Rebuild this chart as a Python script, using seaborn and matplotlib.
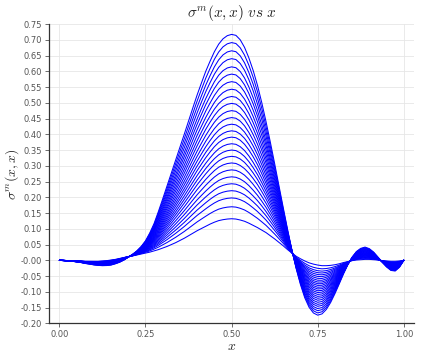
import numpy as np
import pandas as pd
import matplotlib
matplotlib.use("Agg")
import matplotlib.pyplot as plt
import seaborn as sns

# x positions where the curves were read (steps of 0.0125)
x_pts = np.linspace(0.0, 1.0, 81)

# highest curve (largest peak)
top_curve = [0.000, -0.001, -0.002, -0.003, -0.005, -0.007, -0.010, -0.012, -0.0145, -0.016,
             -0.017, -0.0165, -0.015, -0.011, -0.006, 0.001, 0.010, 0.019, 0.030, 0.044,
             0.062, 0.087, 0.117, 0.155, 0.195, 0.236, 0.277, 0.318, 0.359, 0.400,
             0.442, 0.484, 0.525, 0.563, 0.600, 0.632, 0.662, 0.686, 0.703, 0.713,
             0.717, 0.714, 0.700, 0.676, 0.643, 0.603, 0.556, 0.501, 0.440, 0.375,
             0.307, 0.237, 0.167, 0.098, 0.033, -0.026, -0.077, -0.119, -0.149, -0.167,
             -0.174, -0.170, -0.156, -0.134, -0.106, -0.075, -0.043, -0.014, 0.010, 0.028,
             0.038, 0.042, 0.037, 0.026, 0.010, -0.006, -0.021, -0.032, -0.034, -0.022,
             0.000]

# lowest curve (smallest peak)
low_curve = [0.000, 0.000, -0.001, -0.001, -0.002, -0.002, -0.003, -0.003, -0.003, -0.003,
             -0.002, -0.001, 0.001, 0.003, 0.006, 0.009, 0.012, 0.014, 0.017, 0.020,
             0.023, 0.026, 0.030, 0.034, 0.039, 0.044, 0.050, 0.056, 0.063, 0.070,
             0.078, 0.086, 0.094, 0.101, 0.108, 0.115, 0.121, 0.126, 0.129, 0.131,
             0.132, 0.131, 0.128, 0.124, 0.118, 0.111, 0.104, 0.096, 0.088, 0.078,
             0.068, 0.057, 0.046, 0.034, 0.023, 0.013, 0.005, -0.002, -0.008, -0.012,
             -0.015, -0.017, -0.017, -0.016, -0.014, -0.011, -0.007, -0.004, -0.001, 0.001,
             0.002, 0.003, 0.003, 0.002, 0.001, -0.001, -0.002, -0.003, -0.003, -0.002,
             0.000]

# peak value at x = 0.5 of each curve
peaks = [0.132, 0.170, 0.198, 0.221, 0.243, 0.265, 0.287, 0.309, 0.330, 0.350,
         0.370, 0.391, 0.411, 0.432, 0.453, 0.475, 0.498, 0.520, 0.543, 0.567,
         0.591, 0.614, 0.640, 0.665, 0.691, 0.717]

top = np.array(top_curve)
low = np.array(low_curve)

rows = []
for m, p in enumerate(peaks):
    w = (p - peaks[0]) / (peaks[-1] - peaks[0])
    y = low + w * (top - low)
    for xi, yi in zip(x_pts, y):
        rows.append((m, xi, yi))
df = pd.DataFrame(rows, columns=["m", "x", "sigma"])

sns.set_style("whitegrid")
plt.rcParams['font.family'] = ['DejaVu Sans']
plt.rcParams['mathtext.fontset'] = 'cm'

fig = plt.figure(figsize=(4.23, 3.53), dpi=100)
ax = fig.add_axes([0.116, 0.084, 0.863, 0.848])

sns.lineplot(data=df, x="x", y="sigma", units="m", estimator=None,
             color="#0000ff", linewidth=0.75, legend=False, ax=ax)

ax.set_xlim(-0.03, 1.03)
ax.set_ylim(-0.2, 0.75)
ax.set_xticks([0.0, 0.25, 0.5, 0.75, 1.0])
ax.set_yticks(np.round(np.arange(-0.2, 0.751, 0.05), 2))
ax.xaxis.set_major_formatter(matplotlib.ticker.FormatStrFormatter('%.2f'))
ax.yaxis.set_major_formatter(matplotlib.ticker.FormatStrFormatter('%.2f'))
ax.tick_params(axis='both', labelsize=6, colors='#555555', length=3, width=0.6,
               direction='out', pad=2)
ax.tick_params(axis='both', which='both', left=True, bottom=True)
ax.grid(True, color='#e6e6e6', linewidth=0.6)

for s in ['top', 'right']:
    ax.spines[s].set_visible(False)
for s in ['left', 'bottom']:
    ax.spines[s].set_color('#333333')
    ax.spines[s].set_linewidth(0.9)

ax.set_title(r'$\sigma^m(x,x)\ vs\ x$', fontsize=11, pad=5)
ax.set_xlabel(r'$x$', fontsize=10, labelpad=0)
ax.set_ylabel(r'$\sigma^m(x,x)$', fontsize=10, labelpad=0)

fig.savefig("out.png", dpi=100)
